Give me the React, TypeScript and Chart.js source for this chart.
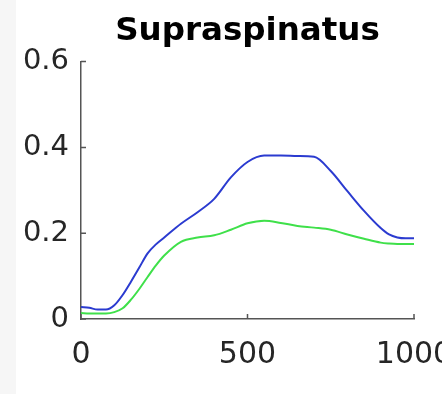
import React, { useEffect, useRef } from "react";
import { Chart, registerables } from "chart.js";

Chart.register(...registerables);

const chartTitle = "Supraspinatus";
const xValues = [0, 25, 50, 75, 100, 125, 150, 175, 200, 225, 250, 300, 350, 400, 450, 500, 550, 600, 650, 700, 750, 800, 850, 900, 925, 950, 975, 1000];
const blueValues = [0.028, 0.026, 0.022, 0.022, 0.032, 0.056, 0.087, 0.12, 0.153, 0.174, 0.19, 0.222, 0.249, 0.28, 0.33, 0.366, 0.381, 0.381, 0.38, 0.378, 0.345, 0.298, 0.252, 0.212, 0.197, 0.19, 0.188, 0.188];
const greenValues = [0.014, 0.013, 0.013, 0.013, 0.016, 0.025, 0.045, 0.07, 0.098, 0.125, 0.148, 0.18, 0.19, 0.195, 0.208, 0.223, 0.229, 0.224, 0.217, 0.213, 0.208, 0.197, 0.187, 0.178, 0.176, 0.175, 0.175, 0.175];
const xTicks = [0, 500, 1000];
const yTicks = [0, 0.2, 0.4, 0.6];

const FONT = "'DejaVu Sans', sans-serif";
const AXIS = "#555555";

const inwardTicks = {
  id: "inwardTicks",
  afterDraw(chart: any) {
    const { ctx, chartArea } = chart;
    const xs = chart.scales.x;
    const ys = chart.scales.y;
    ctx.save();
    ctx.strokeStyle = AXIS;
    ctx.lineWidth = 1.5;
    ctx.beginPath();
    xs.ticks.forEach((t: any) => {
      const px = xs.getPixelForValue(t.value);
      ctx.moveTo(px, chartArea.bottom);
      ctx.lineTo(px, chartArea.bottom - 5);
    });
    ys.ticks.forEach((t: any) => {
      const py = ys.getPixelForValue(t.value);
      ctx.moveTo(chartArea.left, py);
      ctx.lineTo(chartArea.left + 5, py);
    });
    ctx.stroke();
    ctx.restore();
  },
};

export default function App() {
  const ref = useRef<HTMLCanvasElement | null>(null);
  useEffect(() => {
    if (!ref.current) return;
    const chart = new Chart(ref.current, {
      type: "line",
      data: {
        datasets: [
          {
            data: xValues.map((x, i) => ({ x, y: blueValues[i] })),
            borderColor: "#2b3bd0",
            borderWidth: 2,
            pointRadius: 0,
            cubicInterpolationMode: "monotone",
            fill: false,
          },
          {
            data: xValues.map((x, i) => ({ x, y: greenValues[i] })),
            borderColor: "#3fe04a",
            borderWidth: 2,
            pointRadius: 0,
            cubicInterpolationMode: "monotone",
            fill: false,
          },
        ],
      },
      options: {
        animation: false,
        responsive: false,
        devicePixelRatio: 1,
        layout: { padding: { left: 0, right: 28, top: 0, bottom: 0 } },
        plugins: {
          legend: { display: false },
          tooltip: { enabled: false },
          title: {
            display: true,
            fullSize: false,
            text: chartTitle,
            color: "#000000",
            font: { family: FONT, size: 32.5, weight: "bold" },
            padding: { top: 12, bottom: 10.6 },
          },
        },
        scales: {
          x: {
            type: "linear",
            min: 0,
            max: 1000,
            afterBuildTicks: (s: any) => {
              s.ticks = xTicks.map((v) => ({ value: v }));
            },
            afterFit: (s: any) => {
              s.height = 75;
              s.paddingRight = 0;
              s.paddingLeft = 0;
            },
            grid: { display: true, drawOnChartArea: false, drawTicks: false },
            border: { display: true, color: AXIS, width: 1.5 },
            ticks: {
              autoSkip: false,
              maxRotation: 0,
              padding: 18,
              color: "#262626",
              font: { family: FONT, size: 30 },
              callback: (v: any) => String(v),
            },
          },
          y: {
            type: "linear",
            min: 0,
            max: 0.6,
            afterBuildTicks: (s: any) => {
              s.ticks = yTicks.map((v) => ({ value: v }));
            },
            afterFit: (s: any) => {
              s.width = 81;
            },
            grid: { display: true, drawOnChartArea: false, drawTicks: false },
            border: { display: true, color: AXIS, width: 1.5 },
            ticks: {
              autoSkip: false,
              padding: 12,
              color: "#262626",
              font: { family: FONT, size: 29 },
              callback: (v: any) => (v === 0 ? "0" : Number(v).toFixed(1)),
            },
          },
        },
      },
      plugins: [inwardTicks],
    } as any);
    return () => chart.destroy();
  }, []);

  return (
    <div
      style={{
        position: "fixed",
        left: 0,
        top: 0,
        width: 442,
        height: 394,
        overflow: "hidden",
        background: "linear-gradient(to right, #f6f6f6 16px, #ffffff 16px)",
      }}
    >
      <canvas ref={ref} width={442} height={394} style={{ display: "block" }} />
    </div>
  );
}
